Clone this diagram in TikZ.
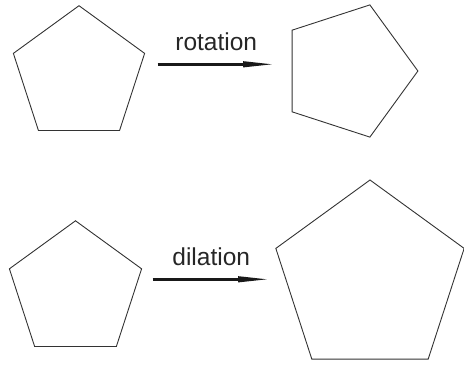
\documentclass[tikz,border=0pt]{standalone}
\usepackage{fontspec}
\setmainfont{Liberation Sans}
\usetikzlibrary{arrows.meta,shapes.geometric}
\tikzset{
  >={Stealth[length=32pt,width=5.5pt,inset=0pt]},
  % former
  pent/.style={regular polygon,regular polygon sides=5,draw=black!80,
               line width=0.9pt,inner sep=0pt,outer sep=0pt},
  % pilar
  mv/.style={->,draw=black!90,line width=2.6pt},
  ml/.style={font=\fontsize{24.5}{28}\selectfont,inner sep=0pt,text=black!85},
}
\begin{document}
\begin{tikzpicture}[x=1pt,y=1pt]
  \useasboundingbox (0,0) rectangle (464,365);
  \node[pent,minimum size=138pt] (src1) at (79,290.3) {};
  \node[pent,minimum size=139pt,regular polygon rotate=-90] (img1) at (348.4,294) {};
  \node[pent,minimum size=139pt] (src2) at (75.5,74.7) {};
  \node[pent,minimum size=198pt] (img2) at (370,86) {};
  \coordinate (r0) at (157.5,300.7);
  \coordinate (r1) at (275,300.7);
  \coordinate (d0) at (152.5,85.7);
  \coordinate (d1) at (270,85.7);
  \draw[mv] (r0) -- node[ml,above=12.5pt] (rl) {rotation} (r1);
  \draw[mv] (d0) -- node[ml,above=12pt] (dl) {dilation} (d1);
\end{tikzpicture}
\end{document}
